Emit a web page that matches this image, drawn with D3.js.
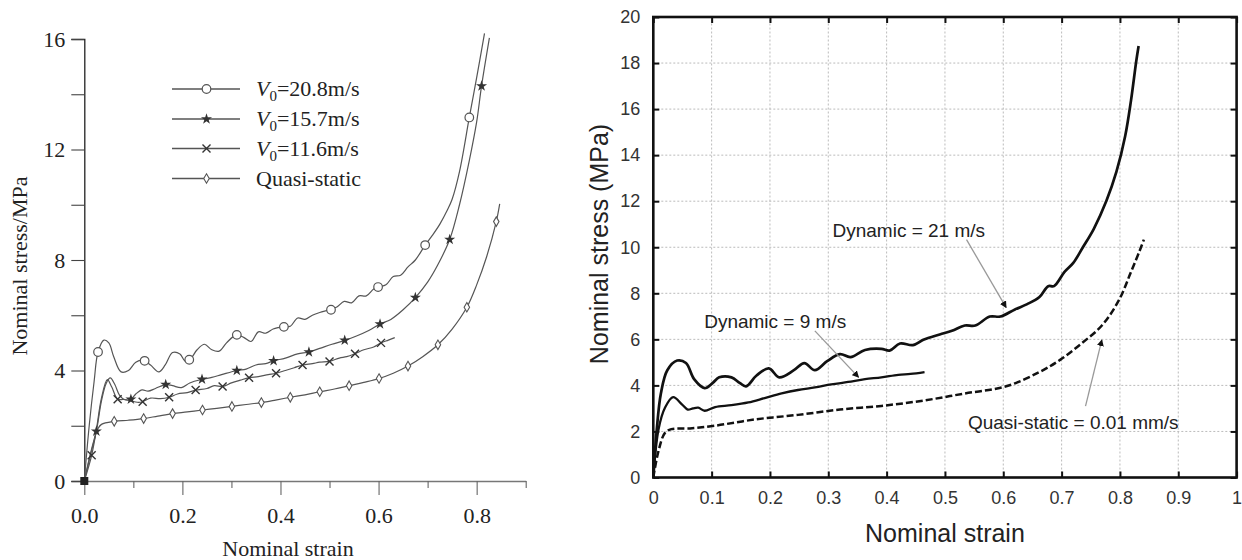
<!DOCTYPE html>
<html><head><meta charset="utf-8">
<script src="https://cdn.jsdelivr.net/npm/d3@7"></script>
<style>body{margin:0;background:#fff}svg{display:block}</style>
</head><body>
<svg id="c" width="1242" height="560"></svg>
<script>
// ---------- LEFT PANEL DATA ----------
const leftYTicks = [0,2,4,6,8,10,12,14,16];
const leftYLabels = [0,4,8,12,16];
const leftXTicks = [0,0.1,0.2,0.3,0.4,0.5,0.6,0.7,0.8,0.9];
const leftXLabels = [0,0.2,0.4,0.6,0.8];
const legendNames = ["20.8m/s","15.7m/s","11.6m/s","Quasi-static"];

const v208 = [[0,0],[0.01,2.0],[0.02,3.6],[0.028,4.67],[0.04,5.1],[0.05,5.0],[0.06,4.5],[0.075,3.95],[0.09,4.0],[0.105,4.3],[0.12,4.37],[0.135,4.2],[0.152,3.95],[0.165,4.2],[0.18,4.65],[0.195,4.6],[0.205,4.35],[0.215,4.39],[0.23,4.75],[0.245,4.95],[0.26,4.75],[0.275,4.7],[0.29,5.0],[0.31,5.29],[0.325,5.2],[0.34,5.05],[0.355,5.4],[0.37,5.35],[0.385,5.5],[0.395,5.55],[0.407,5.58],[0.42,5.6],[0.435,5.9],[0.45,5.85],[0.465,6.0],[0.48,6.1],[0.5,6.2],[0.515,6.3],[0.53,6.5],[0.545,6.45],[0.56,6.7],[0.575,6.7],[0.59,6.95],[0.6,7.02],[0.615,7.1],[0.63,7.4],[0.645,7.45],[0.66,7.75],[0.675,8.0],[0.695,8.54],[0.71,8.9],[0.725,9.3],[0.74,9.8],[0.75,10.2],[0.765,11.2],[0.785,13.16],[0.8,14.6],[0.816,16.2]];
const v157 = [[0,0],[0.012,0.9],[0.0246,1.8],[0.035,2.9],[0.045,3.55],[0.053,3.73],[0.062,3.5],[0.072,3.1],[0.082,2.95],[0.095,2.96],[0.105,3.15],[0.118,3.3],[0.13,3.25],[0.145,3.35],[0.166,3.49],[0.18,3.45],[0.198,3.38],[0.215,3.55],[0.24,3.68],[0.26,3.75],[0.28,3.85],[0.311,4.0],[0.33,4.05],[0.35,4.2],[0.37,4.25],[0.386,4.35],[0.41,4.45],[0.435,4.6],[0.458,4.67],[0.48,4.8],[0.505,4.95],[0.531,5.09],[0.555,5.25],[0.58,5.45],[0.603,5.68],[0.625,5.85],[0.65,6.2],[0.675,6.64],[0.7,7.2],[0.72,7.8],[0.745,8.74],[0.765,10.0],[0.785,11.6],[0.8,13.0],[0.81,14.3],[0.826,16.04]];
const v116 = [[0,0],[0.015,0.93],[0.025,1.9],[0.035,3.0],[0.047,3.67],[0.056,3.4],[0.068,2.96],[0.08,2.95],[0.095,2.9],[0.108,2.85],[0.119,2.87],[0.135,3.0],[0.155,2.98],[0.173,3.03],[0.19,3.15],[0.21,3.2],[0.227,3.29],[0.25,3.35],[0.265,3.45],[0.282,3.42],[0.3,3.55],[0.318,3.65],[0.336,3.74],[0.355,3.78],[0.375,3.85],[0.391,3.9],[0.41,4.0],[0.428,4.1],[0.445,4.2],[0.465,4.25],[0.48,4.3],[0.5,4.33],[0.52,4.45],[0.535,4.5],[0.552,4.61],[0.57,4.75],[0.59,4.85],[0.605,5.0],[0.62,5.1],[0.633,5.19]];
const quasiL = [[0,0],[0.01,0.8],[0.02,1.5],[0.028,1.9],[0.035,2.05],[0.061,2.16],[0.09,2.2],[0.121,2.26],[0.15,2.35],[0.18,2.44],[0.21,2.5],[0.241,2.57],[0.27,2.63],[0.301,2.7],[0.33,2.77],[0.361,2.84],[0.39,2.93],[0.42,3.03],[0.45,3.12],[0.48,3.23],[0.51,3.33],[0.54,3.45],[0.57,3.57],[0.601,3.71],[0.63,3.9],[0.66,4.16],[0.69,4.5],[0.721,4.93],[0.75,5.5],[0.78,6.29],[0.8,7.1],[0.82,8.1],[0.84,9.39],[0.847,10.03]];

const mk208 = [[0.028,4.67],[0.123,4.35],[0.214,4.39],[0.311,5.29],[0.407,5.58],[0.503,6.2],[0.599,7.02],[0.695,8.54],[0.785,13.16]];
const mk157 = [[0.0246,1.8],[0.095,2.96],[0.166,3.49],[0.24,3.68],[0.311,4.0],[0.386,4.35],[0.458,4.67],[0.531,5.09],[0.603,5.68],[0.675,6.64],[0.745,8.74],[0.81,14.3]];
const mk116 = [[0.015,0.93],[0.068,2.96],[0.119,2.87],[0.173,3.03],[0.227,3.29],[0.282,3.42],[0.336,3.74],[0.391,3.9],[0.445,4.2],[0.5,4.33],[0.552,4.61],[0.605,5.0]];
const mkQ = [[0.061,2.16],[0.121,2.26],[0.18,2.44],[0.241,2.57],[0.301,2.7],[0.361,2.84],[0.42,3.03],[0.48,3.23],[0.54,3.45],[0.601,3.71],[0.66,4.16],[0.721,4.93],[0.78,6.29],[0.84,9.39]];

// ---------- RIGHT PANEL DATA ----------
const rightYTicks = [0,2,4,6,8,10,12,14,16,18,20];
const rightXTicks = [0,0.1,0.2,0.3,0.4,0.5,0.6,0.7,0.8,0.9,1];
const dyn21 = [[0,0],[0.006,2.1],[0.013,3.65],[0.024,4.66],[0.041,5.08],[0.056,4.97],[0.07,4.27],[0.088,3.88],[0.102,4.11],[0.113,4.35],[0.134,4.35],[0.148,4.11],[0.159,3.96],[0.177,4.43],[0.198,4.74],[0.216,4.35],[0.241,4.66],[0.259,4.97],[0.277,4.66],[0.298,5.05],[0.32,5.36],[0.338,5.23],[0.363,5.54],[0.391,5.59],[0.405,5.51],[0.423,5.82],[0.445,5.75],[0.463,5.98],[0.491,6.21],[0.512,6.37],[0.534,6.6],[0.552,6.6],[0.577,6.99],[0.595,6.99],[0.62,7.3],[0.641,7.53],[0.662,7.84],[0.677,8.31],[0.687,8.31],[0.705,8.93],[0.72,9.32],[0.737,10.02],[0.755,10.79],[0.777,12.03],[0.794,13.28],[0.809,14.83],[0.819,16.38],[0.828,18.09],[0.832,18.74]];
const dyn9 = [[0,0],[0.009,2.1],[0.02,3.03],[0.034,3.49],[0.049,3.18],[0.059,2.95],[0.068,3.0],[0.077,3.03],[0.088,2.9],[0.106,3.06],[0.134,3.14],[0.163,3.26],[0.191,3.45],[0.22,3.65],[0.248,3.8],[0.277,3.91],[0.305,4.04],[0.334,4.15],[0.363,4.27],[0.391,4.35],[0.42,4.46],[0.441,4.5],[0.465,4.58]];
const quasiR = [[0,0],[0.009,1.16],[0.02,1.94],[0.031,2.1],[0.063,2.13],[0.106,2.25],[0.177,2.53],[0.248,2.72],[0.32,2.95],[0.391,3.11],[0.463,3.34],[0.534,3.65],[0.605,3.96],[0.662,4.58],[0.698,5.12],[0.734,5.82],[0.769,6.6],[0.798,7.69],[0.819,8.93],[0.834,9.86],[0.841,10.33]];
const annotations = [
  {text:"Dynamic = 21 m/s", at:[0.438,10.76], from:[0.537,10.33], to:[0.605,7.38]},
  {text:"Dynamic = 9 m/s", at:[0.209,6.8], from:[0.277,6.37], to:[0.352,4.35]},
  {text:"Quasi-static = 0.01 mm/s", at:[0.72,2.41], from:[0.741,3.1], to:[0.769,5.98]}
];

const svg = d3.select("#c");
const serif = "'Liberation Serif','Times New Roman',serif";
const sans = "'Liberation Sans',Arial,sans-serif";

// ================= LEFT PANEL =================
const xL = d3.scaleLinear().domain([0,0.9]).range([84.3,525.7]);
const yL = d3.scaleLinear().domain([0,16]).range([481,39]);
const gL = svg.append("g");

const yAxL = d3.axisLeft(yL).tickValues(leftYTicks).tickSize(13)
  .tickFormat(d => leftYLabels.includes(d) ? d : "");
const gyL = gL.append("g").attr("transform",`translate(${xL(0)},0)`).call(yAxL);
gyL.select(".domain").attr("stroke","#222").attr("stroke-width",1.3);
gyL.selectAll(".tick line").attr("stroke","#444").attr("stroke-width",1.1);
gyL.selectAll("text").attr("font-family",serif).attr("font-size",22).attr("fill","#222").attr("x",-19);

const xAxL = d3.axisBottom(xL).tickValues(leftXTicks).tickSize(0)
  .tickFormat(d => leftXLabels.some(v=>Math.abs(v-d)<1e-9) ? d3.format(".1f")(d) : "");
const gxL = gL.append("g").attr("transform",`translate(0,${yL(0)})`).call(xAxL);
gxL.select(".domain").attr("stroke","#777").attr("stroke-width",1.4);
gxL.selectAll(".tick line").attr("y2", d => leftXLabels.some(v=>Math.abs(v-d)<1e-9) ? 14 : 7)
  .attr("stroke","#666").attr("stroke-width",1.1);
gxL.selectAll("text").attr("font-family",serif).attr("font-size",22).attr("fill","#222").attr("y",26);

gL.append("text").attr("x",288).attr("y",556).attr("text-anchor","middle")
  .attr("font-family",serif).attr("font-size",22).attr("fill","#222").text("Nominal strain");
gL.append("text").attr("transform","translate(27,266) rotate(-90)").attr("text-anchor","middle")
  .attr("font-family",serif).attr("font-size",22).attr("fill","#222").text("Nominal stress/MPa");

const lineL = d3.line().x(d=>xL(d[0])).y(d=>yL(d[1])).curve(d3.curveCatmullRom.alpha(0.5));
[v208,v157,v116,quasiL].forEach(s=>{
  gL.append("path").datum(s).attr("d",lineL).attr("fill","none").attr("stroke","#555").attr("stroke-width",1.2);
});

function drawMarker(g, kind, x, y){
  if(kind==="circle"){
    g.append("circle").attr("cx",x).attr("cy",y).attr("r",4.3).attr("fill","#fff").attr("stroke","#555").attr("stroke-width",1.2);
  } else if(kind==="star"){
    g.append("path").attr("transform",`translate(${x},${y})`).attr("d",d3.symbol(d3.symbolStar,38)()).attr("fill","#333");
  } else if(kind==="x"){
    const s=4;
    g.append("path").attr("d",`M${x-s},${y-s}L${x+s},${y+s}M${x-s},${y+s}L${x+s},${y-s}`).attr("stroke","#333").attr("stroke-width",1.4);
  } else if(kind==="diamond"){
    g.append("path").attr("transform",`translate(${x},${y})`).attr("d",d3.symbol(d3.symbolDiamond,26)()).attr("fill","#fff").attr("stroke","#555").attr("stroke-width",1.1);
  }
}
const kinds = ["circle","star","x","diamond"];
[mk208,mk157,mk116,mkQ].forEach((m,i)=>m.forEach(p=>drawMarker(gL,kinds[i],xL(p[0]),yL(p[1]))));
gL.append("rect").attr("x",xL(0)-4).attr("y",yL(0)-4).attr("width",8).attr("height",8).attr("fill","#222");

// legend
const legRowY = [89,119,148.5,178.5];
legendNames.forEach((name,i)=>{
  const y = legRowY[i];
  gL.append("line").attr("x1",172).attr("x2",240).attr("y1",y).attr("y2",y).attr("stroke","#555").attr("stroke-width",1.3);
  drawMarker(gL,kinds[i],206.5,y);
  const t = gL.append("text").attr("x",256).attr("y",y+7).attr("font-family",serif).attr("font-size",22).attr("fill","#222");
  if(i<3){
    t.append("tspan").attr("font-style","italic").text("V");
    t.append("tspan").attr("font-size",15).attr("dy",5).text("0");
    t.append("tspan").attr("dy",-5).text("=" + name);
  } else t.text(name);
});

// ================= RIGHT PANEL =================
const xR = d3.scaleLinear().domain([0,1]).range([653.3,1236.6]);
const yR = d3.scaleLinear().domain([0,20]).range([477.5,17]);
const gR = svg.append("g");

// grid
gR.append("g").selectAll("line").data(rightXTicks.slice(1,-1)).join("line")
  .attr("x1",d=>xR(d)).attr("x2",d=>xR(d)).attr("y1",yR(0)).attr("y2",yR(20))
  .attr("stroke","#bbb").attr("stroke-width",1).attr("stroke-dasharray","2,2");
gR.append("g").selectAll("line").data(rightYTicks.slice(1,-1)).join("line")
  .attr("y1",d=>yR(d)).attr("y2",d=>yR(d)).attr("x1",xR(0)).attr("x2",xR(1))
  .attr("stroke","#bbb").attr("stroke-width",1).attr("stroke-dasharray","2,2");

// axes with inward ticks
const gyR = gR.append("g").attr("transform",`translate(${xR(0)},0)`)
  .call(d3.axisLeft(yR).tickValues(rightYTicks).tickSize(-6).tickPadding(13));
const gyR2 = gR.append("g").attr("transform",`translate(${xR(1)},0)`)
  .call(d3.axisRight(yR).tickValues(rightYTicks).tickSize(-6).tickFormat(""));
const gxR = gR.append("g").attr("transform",`translate(0,${yR(0)})`)
  .call(d3.axisBottom(xR).tickValues(rightXTicks).tickSize(-6).tickPadding(14).tickFormat(d3.format("")));
const gxR2 = gR.append("g").attr("transform",`translate(0,${yR(20)})`)
  .call(d3.axisTop(xR).tickValues(rightXTicks).tickSize(-6).tickFormat(""));
[gyR,gyR2,gxR,gxR2].forEach(g=>{
  g.select(".domain").remove();
  g.selectAll(".tick line").attr("stroke","#111").attr("stroke-width",2);
  g.selectAll("text").attr("font-family",sans).attr("font-size",18).attr("fill","#333");
});
gR.append("rect").attr("x",xR(0)).attr("y",yR(20)).attr("width",xR(1)-xR(0)).attr("height",yR(0)-yR(20))
  .attr("fill","none").attr("stroke","#111").attr("stroke-width",2.6);

gR.append("text").attr("x",(xR(0)+xR(1))/2).attr("y",542).attr("text-anchor","middle")
  .attr("font-family",sans).attr("font-size",25).attr("fill","#222").text("Nominal strain");
gR.append("text").attr("transform","translate(608,244) rotate(-90)").attr("text-anchor","middle")
  .attr("font-family",sans).attr("font-size",25).attr("fill","#222").text("Nominal stress (MPa)");

const lineR = d3.line().x(d=>xR(d[0])).y(d=>yR(d[1])).curve(d3.curveCatmullRom.alpha(0.5));
gR.append("path").datum(quasiR).attr("d",lineR).attr("fill","none").attr("stroke","#111").attr("stroke-width",2.5).attr("stroke-dasharray","7,3");
gR.append("path").datum(dyn9).attr("d",lineR).attr("fill","none").attr("stroke","#111").attr("stroke-width",2.3);
gR.append("path").datum(dyn21).attr("d",lineR).attr("fill","none").attr("stroke","#111").attr("stroke-width",2.7);

// annotations
svg.append("defs").append("marker").attr("id","ah").attr("viewBox","0 0 10 10").attr("refX",9).attr("refY",5)
  .attr("markerWidth",7).attr("markerHeight",7).attr("markerUnits","userSpaceOnUse").attr("orient","auto")
  .append("path").attr("d","M0,0L10,5L0,10z").attr("fill","#111");
annotations.forEach(a=>{
  gR.append("line").attr("x1",xR(a.from[0])).attr("y1",yR(a.from[1])).attr("x2",xR(a.to[0])).attr("y2",yR(a.to[1]))
    .attr("stroke","#999").attr("stroke-width",1.3).attr("marker-end","url(#ah)");
  gR.append("text").attr("x",xR(a.at[0])).attr("y",yR(a.at[1])+7).attr("text-anchor","middle")
    .attr("font-family",sans).attr("font-size",19).attr("fill","#222").text(a.text);
});
</script>
</body></html>
